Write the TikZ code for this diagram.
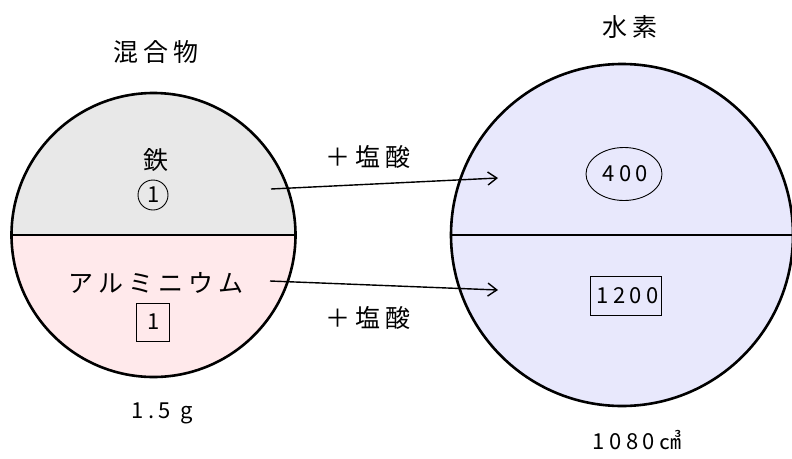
\documentclass[tikz,border=0pt]{standalone}
\usepackage{fontspec}
\setmainfont[LetterSpace=20]{Noto Sans CJK JP}
\newfontfamily\numfont[LetterSpace=20]{Noto Sans CJK JP}
\usetikzlibrary{positioning, arrows.meta, shapes.geometric}
\definecolor{fegray}{HTML}{E8E8E8}
\definecolor{alpink}{HTML}{FFE9EB}
\definecolor{hblue}{HTML}{E8E8FC}
\tikzset{
  % Circle outlines
  rim/.style={draw=black, line width=2.6pt},
  disc/.style={circle, rim, inner sep=0pt},
  % Labels
  biglabel/.style={font=\fontsize{25}{28}\selectfont, inner sep=0pt},
  numlabel/.style={font=\numfont\fontsize{22}{25}\selectfont, inner sep=0pt},
  % Marks round the numbers
  ringmark/.style={circle, draw, line width=0.9pt, minimum size=30pt, inner sep=0pt},
  boxmark/.style={rectangle, draw, line width=0.9pt, inner sep=3pt},
  ovalmark/.style={ellipse, draw, line width=0.9pt, minimum width=76pt, minimum height=53pt},
  % Arrows
  flow/.style={line width=1.4pt, -{Straight Barb[length=9pt, width=13pt]}},
}

\begin{document}
\begin{tikzpicture}[x=1pt, y=-1pt]
  \useasboundingbox (0,0) rectangle (792,458);

  % --- MIXTURE (left) ---
  \fill[fegray] (11.5,235) arc[start angle=180, end angle=360, radius=142] -- cycle;
  \fill[alpink] (11.5,235) arc[start angle=180, end angle=0, radius=142] -- cycle;
  \node[disc, minimum size=284pt] (mix) at (153.5,235) {};
  \draw[rim] (mix.west) -- (mix.east);
  \node[biglabel] (mixname) at (156,52) {混合物};
  \node[biglabel] (fe) at (156,160) {鉄};
  \node[ringmark, numlabel] (feval) at (153,195) {\hspace{2pt}1};
  \node[biglabel] (al) at (156,283) {アルミニウム};
  \node[boxmark, numlabel, minimum width=33pt, minimum height=38pt] (alval) at (153,322) {\hspace{2pt}1};
  \node[numlabel] (mass) at (162,413) {1.5 g};

  % --- HYDROGEN (right) ---
  \fill[hblue] (451,235) arc[start angle=180, end angle=360, radius=171] -- cycle;
  \fill[hblue] (451,235) arc[start angle=180, end angle=0, radius=171] -- cycle;
  \node[disc, minimum size=342pt] (gas) at (622,235) {};
  \draw[rim] (gas.west) -- (gas.east);
  \node[biglabel] (gasname) at (630,27) {水素};
  \node[ovalmark, numlabel] (feh) at (624,174) {\hspace{3pt}400};
  \node[boxmark, numlabel, minimum width=71pt, minimum height=39pt] (alh) at (626,296) {\hspace{3pt}1200};
  \node[numlabel] (vol) at (637,440) {1080㎤};

  % --- Reactions ---
  \coordinate (fe-out) at (271,189);
  \coordinate (fe-in) at (498,178);
  \coordinate (al-out) at (270,281);
  \coordinate (al-in) at (498,290);
  \draw[flow] (fe-out) -- (fe-in);
  \draw[flow] (al-out) -- (al-in);
  \node[biglabel] (acid1) at (368,157) {＋塩酸};
  \node[biglabel] (acid2) at (368,318) {＋塩酸};

\end{tikzpicture}
\end{document}
